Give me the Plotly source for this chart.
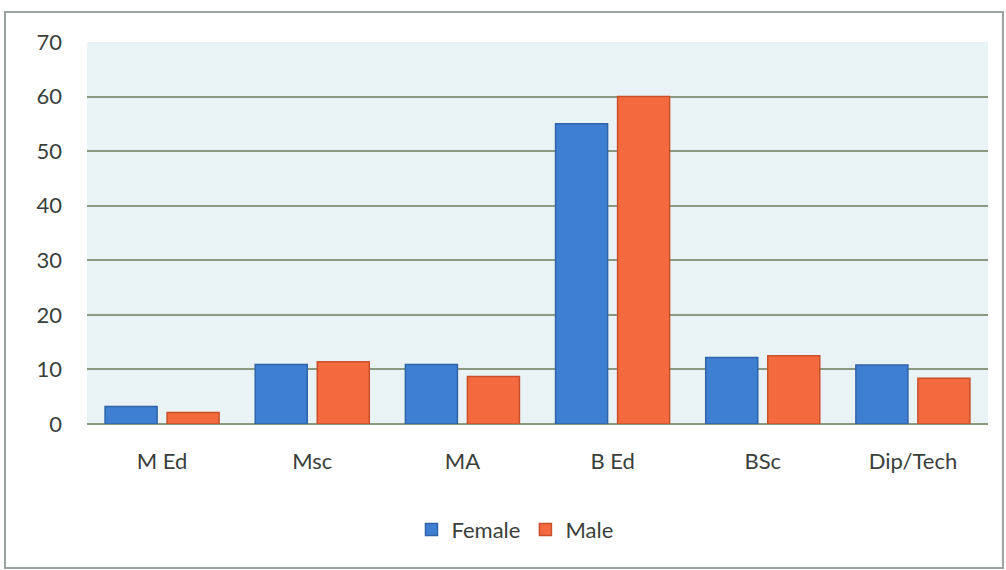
import plotly.graph_objects as go

categories = ["M Ed", "Msc", "MA", "B Ed", "BSc", "Dip/Tech"]
female = [3.2, 10.9, 10.9, 55.0, 12.2, 10.8]
male = [2.1, 11.4, 8.7, 60.0, 12.5, 8.4]
y_ticks = [0, 10, 20, 30, 40, 50, 60, 70]

fig = go.Figure()
fig.add_trace(go.Bar(name="Female", x=categories, y=female,
                     marker=dict(color="#3f7fd2", line=dict(color="#2f64a8", width=1.5))))
fig.add_trace(go.Bar(name="Male", x=categories, y=male,
                     marker=dict(color="#f26a3e", line=dict(color="#c9502a", width=1.5))))

font = "Lato, 'Open Sans', sans-serif"
fig.update_layout(
    width=1006, height=570,
    margin=dict(l=87, r=18, t=42, b=146),
    paper_bgcolor="white",
    plot_bgcolor="#e9f2f4",
    barmode="group", bargap=0.174, bargroupgap=0.161,
    font=dict(family=font, color="#3a3f3c", size=22),
    showlegend=True,
    legend=dict(orientation="h", x=0.475, xanchor="center", y=-0.277, yanchor="middle",
                font=dict(size=22, family=font, color="#3a3f3c"), traceorder="normal",
                itemwidth=30),
    xaxis=dict(showgrid=False, showline=False, ticks="", tickfont=dict(size=22),
               ticklabelstandoff=22),
    yaxis=dict(range=[0, 70], tickvals=y_ticks, showgrid=True, gridcolor="#8a9a80",
               gridwidth=1.5, zeroline=True, zerolinecolor="#8a9a80", zerolinewidth=1.5,
               showline=False, ticks="", tickfont=dict(size=22), ticklabelstandoff=24),
    shapes=[dict(type="rect", xref="paper", yref="paper", x0=-0.091, x1=1.0166,
                 y0=-0.377, y1=1.0785, line=dict(color="#9aa3a0", width=2))],
)
fig.write_html("out.html", config={"displayModeBar": False},
               post_script="document.body.style.margin='0';")
